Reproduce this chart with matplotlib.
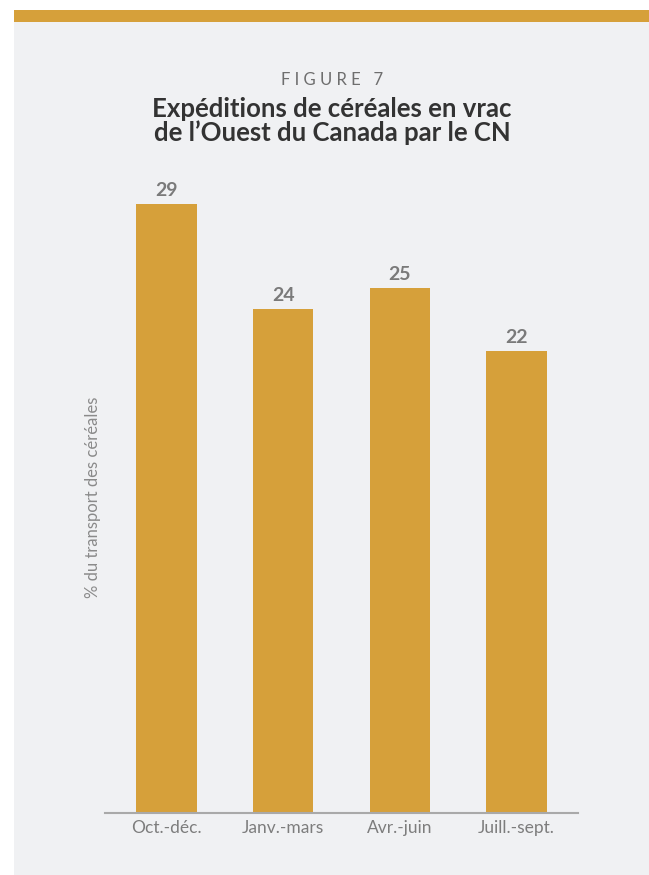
import matplotlib
matplotlib.use('Agg')
import matplotlib.pyplot as plt
from matplotlib.patches import Rectangle
import numpy as np

# data
categories = ['Oct.-déc.', 'Janv.-mars', 'Avr.-juin', 'Juill.-sept.']
values = [29, 24, 25, 22]

bar_color = '#D6A03A'
bg_color = '#F0F1F3'
W, H = 649, 875

plt.rcParams['font.family'] = ['Lato', 'DejaVu Sans']

fig = plt.figure(figsize=(W / 100, H / 100), dpi=100)
fig.patch.set_facecolor('white')

# panel + top band
fig.add_artist(Rectangle((14 / W, 0), 1, (H - 22) / H, transform=fig.transFigure,
                         facecolor=bg_color, edgecolor='none', zorder=0))
fig.add_artist(Rectangle((14 / W, (H - 22) / H), 1, 12 / H, transform=fig.transFigure,
                         facecolor=bar_color, edgecolor='none', zorder=0))

ax = fig.add_axes([105 / W, (H - 813) / H, (578 - 105) / W, 630 / H])
ax.set_facecolor('none')

x = np.arange(len(categories))
bars = ax.bar(x, values, width=0.52, color=bar_color, zorder=2)
for xi, v in zip(x, values):
    ax.text(xi, v + 0.25, str(v), ha='center', va='bottom', fontsize=14,
            fontweight='bold', color='#7a7a7a')

ax.set_xlim(-0.527, 3.527)
ax.set_ylim(0, 30)
ax.set_xticks(x)
ax.set_xticklabels(categories, fontsize=12.5, color='#7d7d7d')
ax.tick_params(axis='x', length=0, pad=5)
ax.set_yticks([])
for s in ['top', 'right', 'left']:
    ax.spines[s].set_visible(False)
ax.spines['bottom'].set_color('#a9a9a9')
ax.spines['bottom'].set_linewidth(1.5)

fig.text(93 / W, 1 - 497 / H, '% du transport des céréales', rotation=90,
         ha='center', va='center', fontsize=12, color='#8a8a8a')

fig.text(332 / W, 1 - 80 / H, 'F I G U R E   7', ha='center', va='center',
         fontsize=12, color='#6e6e6e')
fig.text(332 / W, 1 - 121 / H, 'Expéditions de céréales en vrac\nde l\u2019Ouest du Canada par le CN',
         ha='center', va='center', fontsize=18.5, fontweight='bold', color='#333333',
         linespacing=1.0)

fig.savefig('out.png', dpi=100, facecolor=fig.get_facecolor())
